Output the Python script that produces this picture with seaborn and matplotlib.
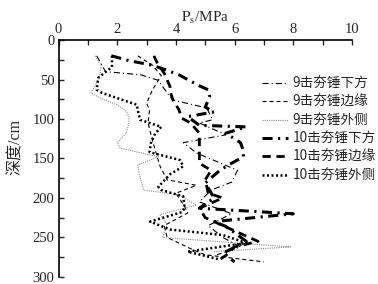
import numpy as np
import pandas as pd
import seaborn as sns
import matplotlib
matplotlib.use("Agg")
import matplotlib.pyplot as plt
from matplotlib.ticker import MultipleLocator

# --- data: penetration resistance Ps (MPa) vs depth (cm) -------------------
labels = ["9击夯锤下方", "9击夯锤边缘", "9击夯锤外侧",
          "10击夯锤下方", "10击夯锤边缘", "10击夯锤外侧"]

d_9_below = [20, 40, 44, 51, 67, 76, 86, 101, 105, 120, 130, 143, 165, 180,
             190, 205, 220, 235, 250, 262, 272]
ps_9_below = [1.3, 1.6, 2.8, 3.4, 3.7, 3.9, 5.05, 5.25, 4.8, 5.7, 4.25, 4.7,
              6.1, 5.9, 5.2, 4.8, 5.9, 5.1, 5.6, 6.2, 5.4]

d_9_edge = [20, 32, 45, 63, 80, 89, 105, 127, 140, 160, 177, 184, 194, 211,
            219, 235, 250, 266, 272, 281]
ps_9_edge = [2.7, 3.2, 3.5, 3.2, 3.0, 3.1, 3.05, 3.2, 3.3, 3.46, 3.7, 4.7,
             4.0, 4.3, 4.4, 3.6, 3.7, 4.6, 5.0, 7.0]

d_9_out = [20, 32, 45, 58, 67, 75, 82, 90, 97, 105, 118, 130, 137, 148, 158,
           170, 190, 196, 209, 221, 234, 250, 262, 268]
ps_9_out = [1.25, 1.45, 1.4, 1.25, 1.1, 1.5, 2.0, 2.3, 2.4, 2.4, 2.3, 2.0,
            2.1, 3.4, 2.7, 2.75, 2.9, 4.1, 4.7, 3.45, 3.7, 3.55, 7.9, 5.3]

d_10_below = [20, 26, 32, 37, 44, 58, 63, 72, 85, 91, 97, 108, 110, 118, 130,
              140, 148, 156, 165, 181, 200, 213, 220, 230, 236, 255, 270, 281]
ps_10_below = [1.8, 2.4, 3.2, 3.6, 4.1, 4.8, 5.1, 5.15, 5.0, 5.3, 4.4, 4.8,
               6.4, 5.7, 6.2, 6.3, 6.3, 5.9, 5.5, 5.0, 5.3, 4.8, 8.0, 5.3,
               5.7, 6.4, 5.6, 6.0]

d_10_edge = [20, 28, 42, 59, 65, 76, 88, 99, 105, 118, 130, 145, 156, 165,
             177, 194, 200, 213, 225, 240, 255, 262, 270, 278]
ps_10_edge = [3.25, 3.35, 3.6, 3.8, 3.8, 3.9, 4.1, 4.2, 4.5, 4.8, 4.8, 4.8,
              4.8, 5.2, 5.0, 5.1, 5.6, 4.8, 5.0, 5.9, 6.8, 6.0, 5.8, 5.5]

d_10_out = [20, 34, 48, 63, 67, 82, 89, 101, 110, 118, 130, 142, 152, 160,
            170, 186, 190, 198, 213, 218, 230, 240, 247, 257, 268, 278]
ps_10_out = [1.82, 1.82, 1.35, 1.3, 1.48, 2.67, 2.7, 2.78, 3.5, 3.3, 3.15,
             3.1, 4.14, 4.25, 3.8, 3.4, 3.5, 4.25, 4.3, 4.2, 3.12, 3.8, 5.6,
             6.4, 4.4, 5.5]

series = [
    (ps_9_below, d_9_below, dict(color="black", lw=0.8, dashes=(5.5, 2.7, 1, 2.7))),
    (ps_9_edge, d_9_edge, dict(color="black", lw=0.8, dashes=(3.6, 2.7))),
    (ps_9_out, d_9_out, dict(color="#8c8c8c", lw=0.8, dashes=(1, 1))),
    (ps_10_below, d_10_below, dict(color="black", lw=2.2, dashes=(3.3, 1.8, 0.7, 1.8))),
    (ps_10_edge, d_10_edge, dict(color="black", lw=2.0, dashes=(3, 2))),
    (ps_10_out, d_10_out, dict(color="black", lw=1.8, dashes=(0.8, 1.0))),
]

# --- style -----------------------------------------------------------------
sns.set_style("ticks")
plt.rcParams["font.family"] = ["Liberation Serif", "Noto Sans CJK SC", "DejaVu Sans"]
plt.rcParams["mathtext.fontset"] = "stix"

fig = plt.figure(figsize=(3.78, 2.84), dpi=100)
ax = fig.add_axes([0.155, 0.025, 0.776, 0.834])

for (ps, d, st), lab in zip(series, labels):
    sns.lineplot(x=ps, y=d, sort=False, estimator=None, ax=ax, label=lab,
                 color=st["color"], linewidth=st["lw"],
                 linestyle=(0, st["dashes"]))

ax.set_xlim(0, 10)
ax.set_ylim(300, 0)
ax.xaxis.tick_top()
ax.xaxis.set_label_position("top")
ax.xaxis.set_major_locator(MultipleLocator(2))
ax.xaxis.set_minor_locator(MultipleLocator(1))
ax.yaxis.set_major_locator(MultipleLocator(50))
ax.yaxis.set_minor_locator(MultipleLocator(25))
ax.tick_params(which="both", direction="in", length=3.5, width=1,
               labelsize=10.5, pad=3, top=True, bottom=False, right=False)

for side in ["right", "bottom"]:
    ax.spines[side].set_visible(False)
for side in ["top", "left"]:
    ax.spines[side].set_linewidth(1.2)
    ax.spines[side].set_color("black")

ax.set_xlabel(r"$\mathrm{P_s}$/MPa", fontsize=11, labelpad=1)
ax.set_ylabel("深度/cm", fontsize=11.5)
ax.yaxis.set_label_coords(-0.12, 0.55)

leg = ax.legend(loc="upper right", bbox_to_anchor=(0.997, 0.735),
                bbox_transform=fig.transFigure, frameon=False,
                prop={"family": ["Noto Sans CJK SC"], "size": 9.8},
                handlelength=1.9, handletextpad=0.3, labelspacing=0.32,
                borderaxespad=0, borderpad=0.1)

fig.savefig("out.png", dpi=100)
